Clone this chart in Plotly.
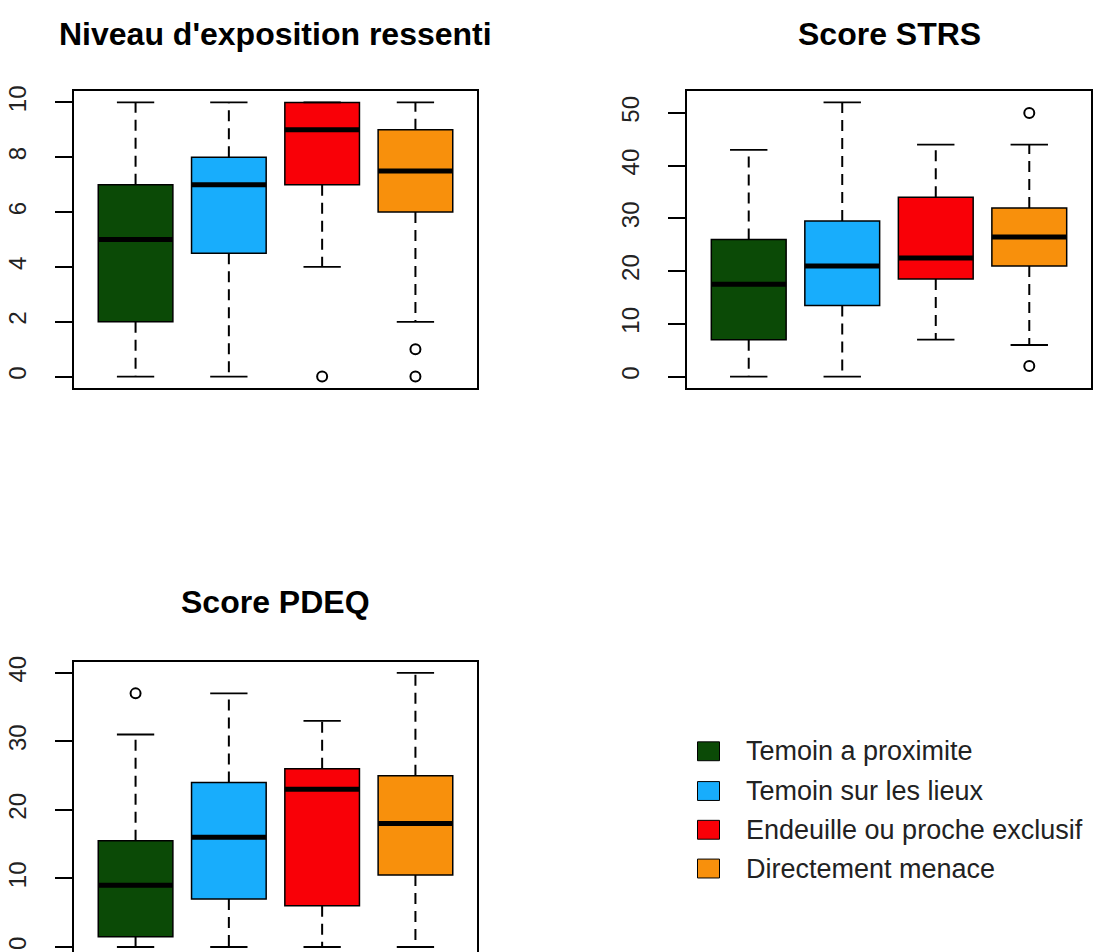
import plotly.graph_objects as go

# ---------------- data ----------------
categories = ["Temoin a proximite", "Temoin sur les lieux",
              "Endeuille ou proche exclusif", "Directement menace"]
colors = ["#0b4a06", "#18adfc", "#f90007", "#f8900c"]

titles = ["Niveau d'exposition ressenti", "Score STRS", "Score PDEQ"]

niveau_lower = [0, 0, 4, 2]
niveau_q1 = [2, 4.5, 7, 6]
niveau_median = [5, 7, 9, 7.5]
niveau_q3 = [7, 8, 10, 9]
niveau_upper = [10, 10, 10, 10]
niveau_outliers = [[], [], [0], [1, 0]]

strs_lower = [0, 0, 7, 6]
strs_q1 = [7, 13.5, 18.5, 21]
strs_median = [17.5, 21, 22.5, 26.5]
strs_q3 = [26, 29.5, 34, 32]
strs_upper = [43, 52, 44, 44]
strs_outliers = [[], [], [], [50, 2]]

pdeq_lower = [0, 0, 0, 0]
pdeq_q1 = [1.5, 7, 6, 10.5]
pdeq_median = [9, 16, 23, 18]
pdeq_q3 = [15.5, 24, 26, 25]
pdeq_upper = [31, 37, 33, 40]
pdeq_outliers = [[37], [], [], []]

niveau_ticks = [0, 2, 4, 6, 8, 10]
strs_ticks = [0, 10, 20, 30, 40, 50]
pdeq_ticks = [0, 10, 20, 30, 40]

# ---------------- layout helpers ----------------
W, H = 1098, 952
FONT = "Liberation Sans, Arial, Helvetica, sans-serif"


def fx(px):
    return px / W


def fy(py):
    return 1 - py / H


fig = go.Figure()

panels = [
    dict(lower=niveau_lower, q1=niveau_q1, med=niveau_median, q3=niveau_q3,
         upper=niveau_upper, out=niveau_outliers, ticks=niveau_ticks,
         xa="x", ya="y"),
    dict(lower=strs_lower, q1=strs_q1, med=strs_median, q3=strs_q3,
         upper=strs_upper, out=strs_outliers, ticks=strs_ticks,
         xa="x2", ya="y2"),
    dict(lower=pdeq_lower, q1=pdeq_q1, med=pdeq_median, q3=pdeq_q3,
         upper=pdeq_upper, out=pdeq_outliers, ticks=pdeq_ticks,
         xa="x3", ya="y3"),
]

BOXW = 0.8
CAPW = 0.4

for p in panels:
    pos = [i + 1 for i in range(len(categories))]
    # dashed whiskers
    wx, wy = [], []
    for i, x in enumerate(pos):
        wx += [x, x, None, x, x, None]
        wy += [p["q3"][i], p["upper"][i], None, p["q1"][i], p["lower"][i], None]
    fig.add_trace(go.Scatter(x=wx, y=wy, mode="lines", xaxis=p["xa"], yaxis=p["ya"],
                             line=dict(color="black", width=2, dash="11px,7px"),
                             showlegend=False, hoverinfo="skip"))
    # boxes
    for i, x in enumerate(pos):
        fig.add_trace(go.Box(x=[x], q1=[p["q1"][i]], median=[p["med"][i]], q3=[p["q3"][i]],
                             lowerfence=[p["q1"][i]], upperfence=[p["q3"][i]],
                             width=BOXW, whiskerwidth=0, boxpoints=False,
                             fillcolor=colors[i], line=dict(color="black", width=1.5),
                             xaxis=p["xa"], yaxis=p["ya"], showlegend=False,
                             name=categories[i]))
    # caps
    cx, cy = [], []
    for i, x in enumerate(pos):
        cx += [x - CAPW / 2, x + CAPW / 2, None, x - CAPW / 2, x + CAPW / 2, None]
        cy += [p["upper"][i], p["upper"][i], None, p["lower"][i], p["lower"][i], None]
    fig.add_trace(go.Scatter(x=cx, y=cy, mode="lines", xaxis=p["xa"], yaxis=p["ya"],
                             line=dict(color="black", width=1.8),
                             showlegend=False, hoverinfo="skip"))
    # medians
    mx, my = [], []
    for i, x in enumerate(pos):
        mx += [x - BOXW / 2, x + BOXW / 2, None]
        my += [p["med"][i], p["med"][i], None]
    fig.add_trace(go.Scatter(x=mx, y=my, mode="lines", xaxis=p["xa"], yaxis=p["ya"],
                             line=dict(color="black", width=5),
                             showlegend=False, hoverinfo="skip"))
    # outliers
    ox, oy = [], []
    for i, x in enumerate(pos):
        for v in p["out"][i]:
            ox.append(x)
            oy.append(v)
    if ox:
        fig.add_trace(go.Scatter(x=ox, y=oy, mode="markers", xaxis=p["xa"], yaxis=p["ya"],
                                 marker=dict(symbol="circle-open", size=10, color="black",
                                             line=dict(width=2, color="black")),
                                 showlegend=False, hoverinfo="skip"))

xrange = [0.34, 4.66]
xdom1 = [fx(74), fx(477)]
xdom2 = [fx(687), fx(1091)]
ydom_top = [fy(384), fy(86)]
ydom_bot = [0, fy(660)]


def xaxis(dom, anchor):
    return dict(domain=dom, range=xrange, anchor=anchor, showticklabels=False,
                ticks="", showgrid=False, zeroline=False, showline=True, mirror=True,
                linecolor="black", linewidth=1.5)


def yaxis(dom, anchor, rng, ticks):
    return dict(domain=dom, range=rng, anchor=anchor, tickvals=ticks,
                ticktext=[str(t) for t in ticks], ticks="outside", ticklen=17,
                tickwidth=1.5, tickcolor="black", tickangle=-90,
                ticklabelstandoff=20,
                tickfont=dict(family=FONT, size=24, color="#222"),
                showgrid=False, zeroline=False, showline=True, mirror=True,
                linecolor="black", linewidth=1.5)


def rpad(lo, hi):
    d = (hi - lo) * 0.04
    return [lo - d, hi + d]


r1 = rpad(0, 10)
r2 = rpad(0, 52)
r3full = rpad(0, 40)
# bottom panel is cut by the page edge: keep the same scale as a full-height panel
full_h = 384 - 86
vis_h = 952 - 660
r3 = [r3full[1] - (r3full[1] - r3full[0]) * vis_h / full_h, r3full[1]]

annotations = []
for t, xc, yc in [(titles[0], (74 + 477) / 2, 28),
                  (titles[1], (687 + 1091) / 2, 28),
                  (titles[2], (74 + 477) / 2, 600)]:
    annotations.append(dict(text="<b>" + t + "</b>", x=fx(xc), y=fy(yc), xref="paper",
                            yref="paper", xanchor="center", yanchor="middle",
                            showarrow=False, font=dict(family=FONT, size=32, color="black")))

shapes = []
legend_rows = [750, 790, 829, 868]
for i, cat in enumerate(categories):
    yc = legend_rows[i]
    shapes.append(dict(type="rect", xref="paper", yref="paper",
                       x0=fx(697.5), x1=fx(719.5), y0=fy(yc + 9.5), y1=fy(yc - 9.5),
                       fillcolor=colors[i], line=dict(color="black", width=1)))
    annotations.append(dict(text=cat, x=fx(744), y=fy(yc), xref="paper", yref="paper",
                            xanchor="left", yanchor="middle", showarrow=False,
                            font=dict(family=FONT, size=27, color="#222")))

fig.update_layout(
    width=W, height=H, margin=dict(l=0, r=0, t=0, b=0),
    paper_bgcolor="white", plot_bgcolor="white",
    boxmode="overlay",
    xaxis=xaxis(xdom1, "y"), yaxis=yaxis(ydom_top, "x", r1, niveau_ticks),
    xaxis2=xaxis(xdom2, "y2"), yaxis2=yaxis(ydom_top, "x2", r2, strs_ticks),
    xaxis3=xaxis(xdom1, "y3"), yaxis3=yaxis(ydom_bot, "x3", r3, pdeq_ticks),
    annotations=annotations, shapes=shapes,
    showlegend=False,
)

fig.write_html("out.html", include_plotlyjs=True, config={"displayModeBar": False},
               post_script="document.body.style.margin='0';document.body.style.overflow='hidden';")
